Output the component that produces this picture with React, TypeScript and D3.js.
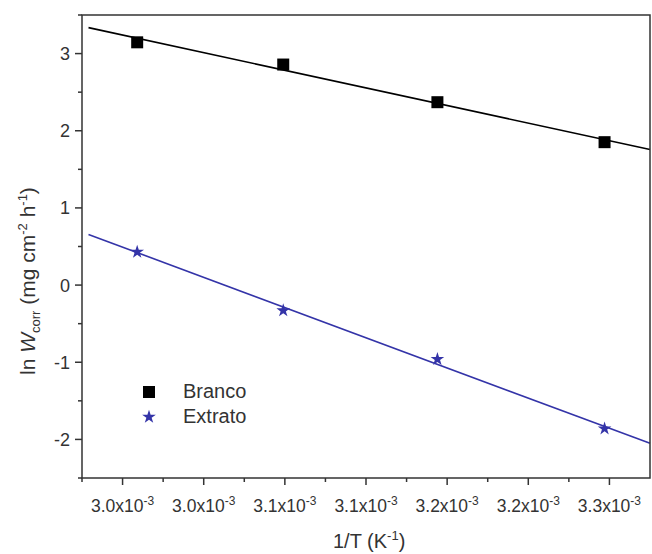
import React from "react";
import * as d3 from "d3";

const invT = [3.009e-3, 3.099e-3, 3.194e-3, 3.297e-3];
const branco = [3.146, 2.858, 2.37, 1.852];
const extrato = [0.43, -0.33, -0.96, -1.86];
const xTicks = [3.0e-3, 3.05e-3, 3.1e-3, 3.15e-3, 3.2e-3, 3.25e-3, 3.3e-3];
const xTickLabels = ["3.0", "3.0", "3.1", "3.1", "3.2", "3.2", "3.3"];
const xMinor = [2.975e-3, 3.025e-3, 3.075e-3, 3.125e-3, 3.175e-3, 3.225e-3, 3.275e-3];
const yTicks = [-2, -1, 0, 1, 2, 3];
const yMinor = [-2.5, -1.5, -0.5, 0.5, 1.5, 2.5, 3.5];
const seriesNames = ["Branco", "Extrato"];

const W = 652, H = 554;
const L = 82, R = 650, T = 15, B = 478;
const FONT = "'Liberation Sans', Arial, sans-serif";
const TXT = "#333";
const BLUE = "#3434a8";

function fit(xs: number[], ys: number[]) {
  const mx = d3.mean(xs)!, my = d3.mean(ys)!;
  let num = 0, den = 0;
  xs.forEach((x, i) => { num += (x - mx) * (ys[i] - my); den += (x - mx) ** 2; });
  const b = num / den;
  return { b, a: my - b * mx };
}

export default function App() {
  const x = d3.scaleLinear().domain([2.975e-3, 3.325e-3]).range([L, R]);
  const y = d3.scaleLinear().domain([-2.5, 3.5]).range([B, T]);
  const lineStart = 2.979e-3, lineEnd = 3.325e-3;
  const fits = [fit(invT, branco), fit(invT, extrato)];
  const colors = ["#000", BLUE];
  const line = d3.line<[number, number]>().x(d => x(d[0])).y(d => y(d[1]));
  const star = d3.symbol().type(d3.symbolStar).size(58)()!;
  const square = d3.symbol().type(d3.symbolSquare).size(144)()!;

  return (
    <svg width={W} height={H} style={{ position: "absolute", left: 0, top: 0 }} fontFamily={FONT}>
      <rect width={W} height={H} fill="#fff" />
      {fits.map((f, i) => (
        <path key={i} d={line([[lineStart, f.a + f.b * lineStart], [lineEnd, f.a + f.b * lineEnd]])!}
          stroke={colors[i]} strokeWidth={1.6} fill="none" />
      ))}
      {invT.map((v, i) => (
        <path key={"b" + i} d={square} transform={`translate(${x(v)},${y(branco[i])})`} fill="#000" />
      ))}
      {invT.map((v, i) => (
        <path key={"e" + i} d={star} transform={`translate(${x(v)},${y(extrato[i])})`} fill={BLUE} />
      ))}
      <rect x={L} y={T} width={R - L} height={B - T} fill="none" stroke="#333" strokeWidth={1.5} />
      {yTicks.map(t => (
        <g key={"yt" + t}>
          <line x1={L - 7} x2={L} y1={y(t)} y2={y(t)} stroke="#333" strokeWidth={1.5} />
          <text x={70} y={y(t) + 6.5} textAnchor="end" fontSize={18} fill={TXT}>{t}</text>
        </g>
      ))}
      {yMinor.map(t => (
        <line key={"ym" + t} x1={L - 4} x2={L} y1={y(t)} y2={y(t)} stroke="#333" strokeWidth={1.5} />
      ))}
      {xTicks.map((t, i) => (
        <g key={"xt" + i}>
          <line x1={x(t)} x2={x(t)} y1={B} y2={B + 7} stroke="#333" strokeWidth={1.5} />
          <text x={x(t)} y={512} textAnchor="middle" fontSize={17.5} fill={TXT}>
            {xTickLabels[i]}x10<tspan fontSize={12} dy={-7}>-3</tspan>
          </text>
        </g>
      ))}
      {xMinor.map((t, i) => (
        <line key={"xm" + i} x1={x(t)} x2={x(t)} y1={B} y2={B + 4} stroke="#333" strokeWidth={1.5} />
      ))}
      <text x={333} y={548} fontSize={20} fill={TXT}>
        1/T (K<tspan fontSize={13} dy={-8}>-1</tspan><tspan dy={8}>)</tspan>
      </text>
      <text transform={`translate(35,375) rotate(-90)`} textAnchor="start" fontSize={21} fill={TXT}>
        ln <tspan fontStyle="italic">W</tspan><tspan fontSize={13} dy={5}>corr</tspan>
        <tspan dy={-5}> (mg cm</tspan><tspan fontSize={13} dy={-8}>-2</tspan>
        <tspan dy={8}> h</tspan><tspan fontSize={13} dy={-8}>-1</tspan><tspan dy={8}>)</tspan>
      </text>
      <path d={square} transform="translate(149,392)" fill="#000" />
      <text x={183} y={398} fontSize={20} fill={TXT}>{seriesNames[0]}</text>
      <path d={star} transform="translate(149,417)" fill={BLUE} />
      <text x={183} y={423} fontSize={20} fill={TXT}>{seriesNames[1]}</text>
    </svg>
  );
}
